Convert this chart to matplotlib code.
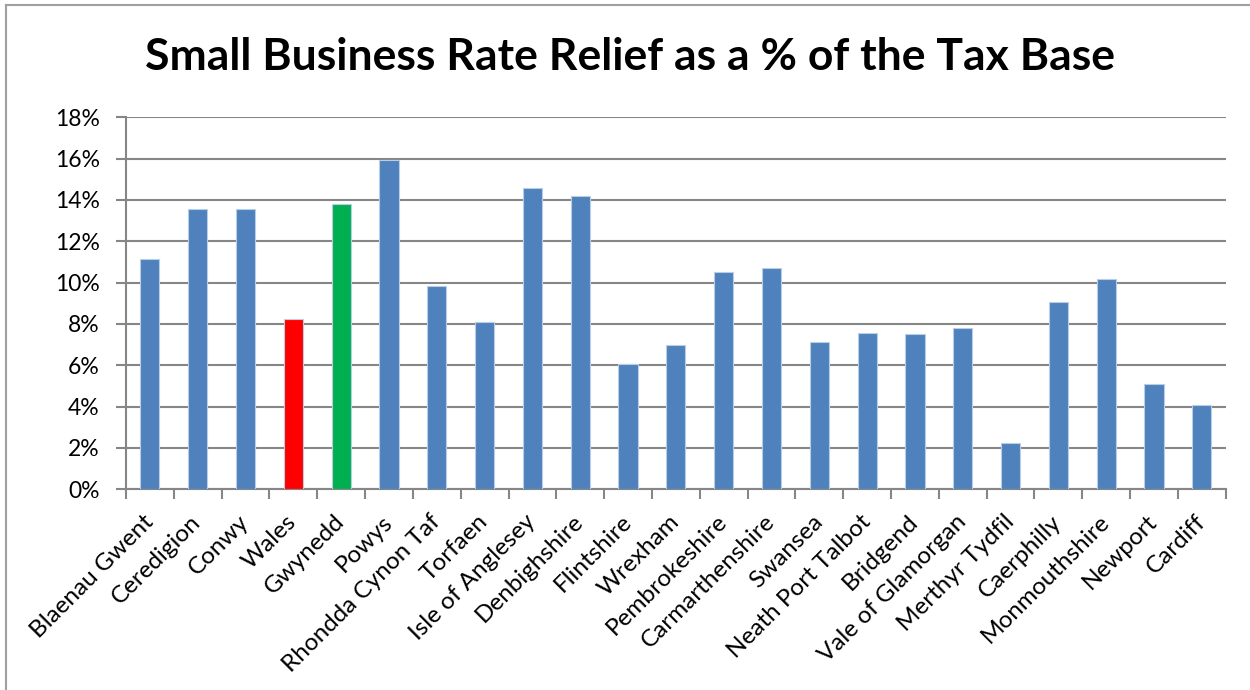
import numpy as np
import matplotlib.pyplot as plt
from matplotlib.lines import Line2D
from matplotlib.ticker import FuncFormatter, FixedLocator

plt.rcParams['font.family'] = ['Lato', 'DejaVu Sans']

# data (% of tax base)
areas = ['Blaenau Gwent', 'Ceredigion', 'Conwy', 'Wales', 'Gwynedd', 'Powys',
         'Rhondda Cynon Taf', 'Torfaen', 'Isle of Anglesey', 'Denbighshire',
         'Flintshire', 'Wrexham', 'Pembrokeshire', 'Carmarthenshire', 'Swansea',
         'Neath Port Talbot', 'Bridgend', 'Vale of Glamorgan', 'Merthyr Tydfil',
         'Caerphilly', 'Monmouthshire', 'Newport', 'Cardiff']
relief_pct = [11.16, 13.58, 13.55, 8.22, 13.79, 15.92,
              9.82, 8.08, 14.59, 14.21,
              6.05, 7.00, 10.53, 10.71, 7.13,
              7.58, 7.50, 7.79, 2.26,
              9.08, 10.19, 5.11, 4.08]
highlight = {'Wales': '#FF0000', 'Gwynedd': '#00B050'}

colors = [highlight.get(a, '#4F81BD') for a in areas]
x = np.arange(len(areas))

fig = plt.figure(figsize=(12.5, 6.9), dpi=100)
ax = fig.add_axes([0.1008, 0.2909, 0.8798, 0.5391])

ax.bar(x, relief_pct, width=0.4, color=colors, edgecolor='#B9CDE5',
       linewidth=0.8, zorder=3)

ax.set_xlim(-0.5, len(areas) - 0.5)
ax.set_ylim(0, 18)
ax.set_yticks(np.arange(0, 19, 2))
ax.yaxis.set_major_formatter(FuncFormatter(lambda v, p: f'{v:.0f}%'))
ax.grid(axis='y', color='#868686', linewidth=1.5, zorder=0)

ax.set_xticks(x)
ax.set_xticklabels(areas, rotation=45, ha='right', va='center',
                   rotation_mode='anchor', fontsize=17.5)
ax.tick_params(axis='x', which='major', length=0, pad=21)
ax.xaxis.set_minor_locator(FixedLocator(np.arange(-0.5, len(areas), 1)))
ax.tick_params(axis='x', which='minor', length=7, width=1.5, color='#868686')
ax.tick_params(axis='y', length=7, width=1.5, color='#868686', labelsize=16.5, pad=12)

for side in ['top', 'right']:
    ax.spines[side].set_visible(False)
for side in ['left', 'bottom']:
    ax.spines[side].set_color('#868686')
    ax.spines[side].set_linewidth(1.5)

fig.text(0.504, 0.917, 'Small Business Rate Relief as a % of the Tax Base',
         ha='center', va='center', fontsize=32, fontweight='bold')

# chart area border
fig.add_artist(Line2D([0.005, 1.0], [0.993, 0.993], color='#A0A0A0', linewidth=1.5))
fig.add_artist(Line2D([0.005, 0.005], [0.0, 0.993], color='#A0A0A0', linewidth=1.5))

fig.savefig('out.png', dpi=100)
